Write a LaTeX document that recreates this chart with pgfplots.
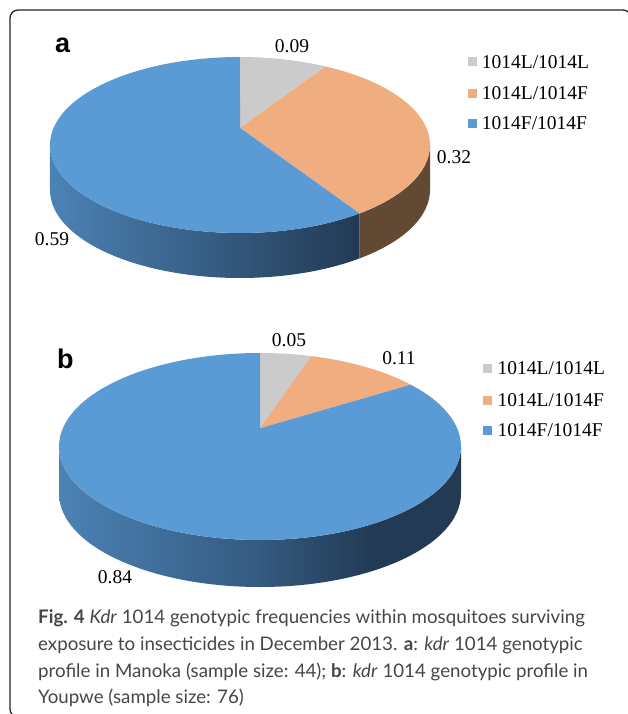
\documentclass[border=0pt]{standalone}
\usepackage{pgfplots}
\pgfplotsset{compat=1.18}
\usepackage{pgfplotstable}
\usepackage{fontspec}
\setmainfont{Liberation Serif}
\newfontfamily\labfont{Liberation Sans}
\newfontfamily\capfont{Lato}

\definecolor{pgray}{RGB}{203,203,203}
\definecolor{porange}{RGB}{240,174,128}
\definecolor{pblue}{RGB}{91,155,213}
\definecolor{pbrown}{RGB}{97,73,52}
\definecolor{sideL}{RGB}{76,130,181}
\definecolor{sideM}{RGB}{52,90,128}
\definecolor{sideR}{RGB}{34,58,84}
\definecolor{captxt}{RGB}{70,70,70}
\definecolor{framec}{RGB}{35,35,35}

\pgfdeclarehorizontalshading{bside}{100bp}{color(0bp)=(sideL); color(25bp)=(sideL); color(50bp)=(sideM); color(64bp)=(sideR); color(100bp)=(sideR)}

% genotype frequencies
\pgfplotstableread{
genotype value
LL 0.09
LF 0.32
FF 0.59
}\pieA
\pgfplotstableread{
genotype value
LL 0.05
LF 0.11
FF 0.84
}\pieB

% perspective point on a tilted pie: #1 name, #2 angle, #3 cx, #4 cy, #5 rx, #6 ry
\def\pe{0.195}
\newcommand\piepoint[6]{%
  \pgfmathsetmacro\pw{1+\pe*sin(#2)}%
  \pgfmathsetmacro\PXr{#5*sqrt(1-\pe*\pe)*cos(#2)/\pw}%
  \pgfmathsetmacro\PYr{#6*(sin(#2)+\pe)/\pw}%
  \pgfmathsetmacro\PTr{atan2(\PYr/#6,\PXr/#5)}%
  \pgfmathsetmacro\tmpx{#3+\PXr}%
  \pgfmathsetmacro\tmpy{#4-\PYr}%
  \expandafter\global\expandafter\let\csname #1x\endcsname\tmpx
  \expandafter\global\expandafter\let\csname #1y\endcsname\tmpy
  \expandafter\global\expandafter\let\csname #1t\endcsname\PTr
}

\begin{document}
\begin{tikzpicture}
\path[use as bounding box] (0,0) rectangle (627pt,714pt);

% pie geometry (pixels)
\def\cxA{240}\def\cyA{145}\def\rxA{190}\def\ryA{88}\def\dA{45}
\def\cxB{260}\def\cyB{446.5}\def\rxB{201}\def\ryB{93.5}\def\dB{47}

\pgfplotstablegetelem{0}{value}\of\pieA \edef\aone{\pgfplotsretval}
\pgfplotstablegetelem{1}{value}\of\pieA \edef\atwo{\pgfplotsretval}
\pgfplotstablegetelem{0}{value}\of\pieB \edef\bone{\pgfplotsretval}
\pgfplotstablegetelem{1}{value}\of\pieB \edef\btwo{\pgfplotsretval}

\pgfmathsetmacro\phAone{90-360*\aone}
\pgfmathsetmacro\phAtwo{90-360*(\aone+\atwo)}
\pgfmathsetmacro\phBone{90-360*\bone}
\pgfmathsetmacro\phBtwo{90-360*(\bone+\btwo)}

\piepoint{Azero}{90}{\cxA}{\cyA}{\rxA}{\ryA}
\piepoint{Aone}{\phAone}{\cxA}{\cyA}{\rxA}{\ryA}
\piepoint{Atwo}{\phAtwo}{\cxA}{\cyA}{\rxA}{\ryA}
\piepoint{Bzero}{90}{\cxB}{\cyB}{\rxB}{\ryB}
\piepoint{Bone}{\phBone}{\cxB}{\cyB}{\rxB}{\ryB}
\piepoint{Btwo}{\phBtwo}{\cxB}{\cyB}{\rxB}{\ryB}

\pgfmathsetmacro\apyA{\cyA-\ryA*\pe}
\pgfmathsetmacro\apyB{\cyB-\ryB*\pe}
\pgfmathsetmacro\rgtA{\cxA+\rxA}
\pgfmathsetmacro\rgtB{\cxB+\rxB}

\begin{axis}[
  at={(0pt,0pt)}, anchor=south west,
  scale only axis, width=627pt, height=714pt,
  xmin=0, xmax=627, ymin=0, ymax=714, y dir=reverse,
  enlargelimits=false, hide axis, clip=false,
]
% ---------- frame ----------
\draw[framec, line width=1.3pt, rounded corners=8pt]
  (axis cs:10,10) rectangle (axis cs:631,717);

% ---------- pie a ----------
\shade[left color=sideL, right color=sideR]
  (axis cs:\Atwox,\Atwoy) arc[start angle=\Atwot, end angle=-180, x radius=\rxA pt, y radius=\ryA pt]
  -- ++(0pt,-\dA pt) arc[start angle=-180, end angle=\Atwot, x radius=\rxA pt, y radius=\ryA pt] -- cycle;
\fill[pbrown]
  (axis cs:\rgtA,\cyA) arc[start angle=0, end angle=\Atwot, x radius=\rxA pt, y radius=\ryA pt]
  -- ++(0pt,-\dA pt) arc[start angle=\Atwot, end angle=0, x radius=\rxA pt, y radius=\ryA pt] -- cycle;
\fill[pgray] (axis cs:\cxA,\apyA) -- (axis cs:\Azerox,\Azeroy)
  arc[start angle=\Azerot, end angle=\Aonet, x radius=\rxA pt, y radius=\ryA pt] -- cycle;
\fill[porange] (axis cs:\cxA,\apyA) -- (axis cs:\Aonex,\Aoney)
  arc[start angle=\Aonet, end angle=\Atwot, x radius=\rxA pt, y radius=\ryA pt] -- cycle;
\fill[pblue] (axis cs:\cxA,\apyA) -- (axis cs:\Atwox,\Atwoy)
  arc[start angle=\Atwot, end angle=-270, x radius=\rxA pt, y radius=\ryA pt] -- cycle;

% ---------- pie b ----------
\shade[shading=bside]
  (axis cs:\rgtB,\cyB) arc[start angle=0, end angle=-180, x radius=\rxB pt, y radius=\ryB pt]
  -- ++(0pt,-\dB pt) arc[start angle=-180, end angle=0, x radius=\rxB pt, y radius=\ryB pt] -- cycle;
\fill[pgray] (axis cs:\cxB,\apyB) -- (axis cs:\Bzerox,\Bzeroy)
  arc[start angle=\Bzerot, end angle=\Bonet, x radius=\rxB pt, y radius=\ryB pt] -- cycle;
\fill[porange] (axis cs:\cxB,\apyB) -- (axis cs:\Bonex,\Boney)
  arc[start angle=\Bonet, end angle=\Btwot, x radius=\rxB pt, y radius=\ryB pt] -- cycle;
\fill[pblue] (axis cs:\cxB,\apyB) -- (axis cs:\Btwox,\Btwoy)
  arc[start angle=\Btwot, end angle=-270, x radius=\rxB pt, y radius=\ryB pt] -- cycle;

% ---------- panel letters ----------
\node[anchor=base west, inner sep=0pt, font=\labfont\bfseries\fontsize{27}{27}\selectfont] at (axis cs:55,53) {a};
\node[anchor=base west, inner sep=0pt, font=\labfont\bfseries\fontsize{27}{27}\selectfont] at (axis cs:57,368) {b};

% ---------- data labels ----------
\begin{scope}[every node/.style={anchor=base, inner sep=0pt, font=\fontsize{19.5}{19.5}\selectfont}]
\node at (axis cs:292,52.5) {0.09};
\node at (axis cs:454,163.5) {0.32};
\node at (axis cs:52,245) {0.59};
\node at (axis cs:289,346.5) {0.05};
\node at (axis cs:399,364.5) {0.11};
\node at (axis cs:115,583.5) {0.84};
\end{scope}

% ---------- legends ----------
\begin{scope}[every node/.style={anchor=base west, inner sep=0pt, font=\fontsize{19.5}{19.5}\selectfont}]
\fill[pgray]   (axis cs:468.3,57.2) rectangle (axis cs:477.3,66.2);
\fill[porange] (axis cs:468.3,88.8) rectangle (axis cs:477.3,97.8);
\fill[pblue]   (axis cs:468.3,118.8) rectangle (axis cs:477.3,127.8);
\node at (axis cs:481.7,68.2) {1014L/1014L};
\node at (axis cs:481.7,99.8) {1014L/1014F};
\node at (axis cs:481.7,129.8) {1014F/1014F};
\fill[pgray]   (axis cs:483.3,363.8) rectangle (axis cs:492.3,372.8);
\fill[porange] (axis cs:483.3,395.5) rectangle (axis cs:492.3,404.5);
\fill[pblue]   (axis cs:483.3,425.5) rectangle (axis cs:492.3,434.5);
\node at (axis cs:497.5,374.8) {1014L/1014L};
\node at (axis cs:497.5,406.5) {1014L/1014F};
\node at (axis cs:497.5,436.5) {1014F/1014F};
\end{scope}

% ---------- caption ----------
\begin{scope}[every node/.style={anchor=base west, inner sep=0pt, text=captxt, font=\capfont\fontsize{18.7}{18.7}\selectfont}]
\node at (axis cs:38,623) {\textbf{Fig. 4} \textit{Kdr} 1014 genotypic frequencies within mosquitoes surviving};
\node at (axis cs:38,650) {exposure to insecticides in December 2013. \textbf{a}: \textit{kdr} 1014 genotypic};
\node at (axis cs:38,677) {profile in Manoka (sample size: 44); \textbf{b}: \textit{kdr} 1014 genotypic profile in};
\node at (axis cs:38,703) {Youpwe (sample size: 76)};
\end{scope}
\end{axis}
\end{tikzpicture}
\end{document}
